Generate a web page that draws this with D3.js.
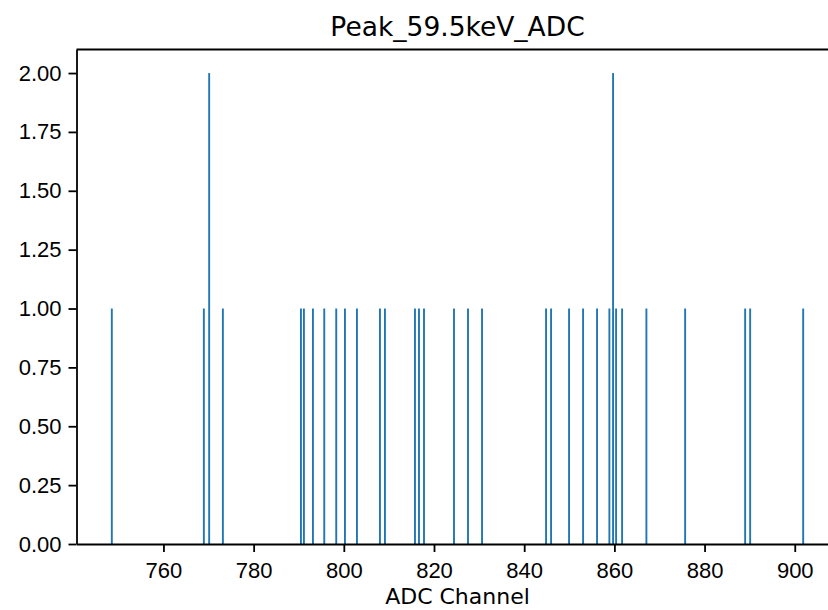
<!DOCTYPE html>
<html>
<head>
<meta charset="utf-8">
<script src="https://cdn.jsdelivr.net/npm/d3@7"></script>
<style>
  body { margin: 0; background: #fff; }
  svg { display: block; font-family: 'DejaVu Sans', sans-serif; }
  .axis path, .axis line { stroke: #000; stroke-width: 1.8; }
  .axis text { font-size: 22px; fill: #000; }
</style>
</head>
<body>
<div id="graph"></div>
<script>
var channels = [748.55, 768.96, 770.14, 773.18, 790.49, 791.15, 793.15, 795.66, 798.32,
                800.25, 802.91, 808.01, 809.12, 815.78, 816.67, 817.78, 824.43, 827.54,
                830.65, 844.85, 845.96, 849.95, 853.06, 856.16, 858.89, 859.71, 860.38,
                861.71, 867.10, 875.69, 889.00, 890.11, 901.87];
var counts   = [1, 1, 2, 1, 1, 1, 1, 1, 1,
                1, 1, 1, 1, 1, 1, 1, 1, 1,
                1, 1, 1, 1, 1, 1, 1, 2, 1,
                1, 1, 1, 1, 1, 1];
var binWidth = 0.42;
var xTicks = [760, 780, 800, 820, 840, 860, 880, 900];
var yTicks = [0, 0.25, 0.5, 0.75, 1.0, 1.25, 1.5, 1.75, 2.0];
var title  = 'Peak_59.5keV_ADC';
var xLabel = 'ADC Channel';

function drawChart ()
{
    var W = 828, H = 610;
    var margin = { left: 76.5, top: 49.5, bottom: 544 };
    var plotW = 762;   // right spine falls outside the picture, as in the reference

    var svg = d3.select('#graph').append('svg')
                .attr('width', W)
                .attr('height', H);

    // matplotlib-like 5% margins around the data
    var lo = d3.min(channels) - 0.15;
    var hi = d3.max(channels) + 0.15;
    var pad = (hi - lo) * 0.05;

    var xScale = d3.scaleLinear()
                   .domain([lo - pad, hi + pad])
                   .range([margin.left, margin.left + plotW]);

    var yMax = d3.max(counts) * 1.05;
    var yScale = d3.scaleLinear()
                   .domain([0, yMax])
                   .range([margin.bottom, margin.top]);

    // bars
    svg.append('g').selectAll('rect')
       .data(channels)
       .enter()
       .append('rect')
       .attr('x', function(d) { return xScale(d - binWidth / 2); })
       .attr('width', function(d) { return xScale(d + binWidth / 2) - xScale(d - binWidth / 2); })
       .attr('y', function(d, i) { return yScale(counts[i]); })
       .attr('height', function(d, i) { return yScale(0) - yScale(counts[i]); })
       .attr('fill', '#1f77b4');

    // axes
    var xAxis = d3.axisBottom(xScale)
                  .tickValues(xTicks)
                  .tickSize(8)
                  .tickPadding(10.5)
                  .tickSizeOuter(0)
                  .tickFormat(d3.format('d'));

    var yAxis = d3.axisLeft(yScale)
                  .tickValues(yTicks)
                  .tickSize(8)
                  .tickPadding(7)
                  .tickSizeOuter(0)
                  .tickFormat(d3.format('.2f'));

    svg.append('g')
       .attr('class', 'axis')
       .attr('transform', 'translate(0,' + margin.bottom + ')')
       .call(xAxis);

    svg.append('g')
       .attr('class', 'axis')
       .attr('transform', 'translate(' + margin.left + ',0)')
       .call(yAxis);

    // top and right spines
    svg.append('line')
       .attr('x1', margin.left).attr('x2', margin.left + plotW)
       .attr('y1', margin.top).attr('y2', margin.top)
       .attr('stroke', '#000').attr('stroke-width', 1.8);
    svg.append('line')
       .attr('x1', margin.left + plotW).attr('x2', margin.left + plotW)
       .attr('y1', margin.top).attr('y2', margin.bottom)
       .attr('stroke', '#000').attr('stroke-width', 1.8);

    // title and x label
    svg.append('text')
       .attr('x', margin.left + plotW / 2)
       .attr('y', 36)
       .attr('text-anchor', 'middle')
       .attr('font-size', '26.5px')
       .attr('fill', '#000')
       .text(title);

    svg.append('text')
       .attr('x', margin.left + plotW / 2)
       .attr('y', 604)
       .attr('text-anchor', 'middle')
       .attr('font-size', '22px')
       .attr('fill', '#000')
       .text(xLabel);
}

drawChart();
</script>
</body>
</html>
